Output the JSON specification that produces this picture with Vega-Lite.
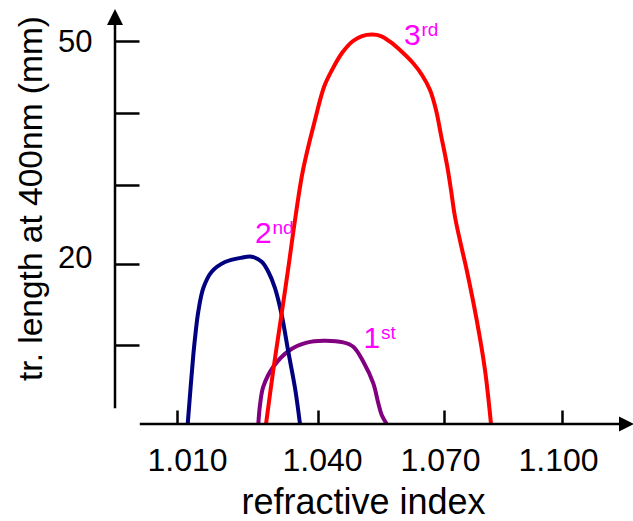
{
  "$schema": "https://vega.github.io/schema/vega-lite/v6.json",
  "width": 518,
  "height": 424,
  "autosize": {"type": "none"},
  "padding": {"left": 115, "top": 0, "right": 0, "bottom": 97},
  "background": "white",
  "config": {"view": {"stroke": null}, "font": "Liberation Sans"},
  "datasets": {
    "curves": [
      {"order": "1st", "ri": 1.02730, "len": 0},
      {"order": "1st", "ri": 1.02766, "len": 2.41},
      {"order": "1st", "ri": 1.02836, "len": 4.72},
      {"order": "1st", "ri": 1.03049, "len": 7.25},
      {"order": "1st", "ri": 1.03404, "len": 9.37},
      {"order": "1st", "ri": 1.03760, "len": 10.29},
      {"order": "1st", "ri": 1.04126, "len": 10.53},
      {"order": "1st", "ri": 1.04602, "len": 10.33},
      {"order": "1st", "ri": 1.04840, "len": 9.78},
      {"order": "1st", "ri": 1.05079, "len": 7.89},
      {"order": "1st", "ri": 1.05317, "len": 5.15},
      {"order": "1st", "ri": 1.05436, "len": 2.62},
      {"order": "1st", "ri": 1.05517, "len": 1.14},
      {"order": "1st", "ri": 1.05636, "len": 0},
      {"order": "2nd", "ri": 1.01228, "len": 0},
      {"order": "2nd", "ri": 1.01347, "len": 8.73},
      {"order": "2nd", "ri": 1.01398, "len": 11.65},
      {"order": "2nd", "ri": 1.01453, "len": 14.13},
      {"order": "2nd", "ri": 1.01560, "len": 17.06},
      {"order": "2nd", "ri": 1.01738, "len": 19.08},
      {"order": "2nd", "ri": 1.02021, "len": 20.29},
      {"order": "2nd", "ri": 1.02377, "len": 20.83},
      {"order": "2nd", "ri": 1.02589, "len": 20.95},
      {"order": "2nd", "ri": 1.02802, "len": 20.33},
      {"order": "2nd", "ri": 1.02943, "len": 19.08},
      {"order": "2nd", "ri": 1.03085, "len": 17.06},
      {"order": "2nd", "ri": 1.03228, "len": 13.72},
      {"order": "2nd", "ri": 1.03368, "len": 9.15},
      {"order": "2nd", "ri": 1.03511, "len": 4.56},
      {"order": "2nd", "ri": 1.03617, "len": 0},
      {"order": "3rd", "ri": 1.02894, "len": 0},
      {"order": "3rd", "ri": 1.03043, "len": 6.58},
      {"order": "3rd", "ri": 1.03206, "len": 13.10},
      {"order": "3rd", "ri": 1.03362, "len": 19.29},
      {"order": "3rd", "ri": 1.03511, "len": 25.57},
      {"order": "3rd", "ri": 1.03681, "len": 32.04},
      {"order": "3rd", "ri": 1.03936, "len": 38.99},
      {"order": "3rd", "ri": 1.04143, "len": 43.57},
      {"order": "3rd", "ri": 1.04333, "len": 45.93},
      {"order": "3rd", "ri": 1.04571, "len": 48.29},
      {"order": "3rd", "ri": 1.04833, "len": 49.96},
      {"order": "3rd", "ri": 1.05048, "len": 50.65},
      {"order": "3rd", "ri": 1.05286, "len": 50.86},
      {"order": "3rd", "ri": 1.05500, "len": 50.65},
      {"order": "3rd", "ri": 1.05714, "len": 49.86},
      {"order": "3rd", "ri": 1.05976, "len": 48.57},
      {"order": "3rd", "ri": 1.06262, "len": 46.90},
      {"order": "3rd", "ri": 1.06476, "len": 45.24},
      {"order": "3rd", "ri": 1.06667, "len": 43.15},
      {"order": "3rd", "ri": 1.06810, "len": 40.38},
      {"order": "3rd", "ri": 1.06929, "len": 36.90},
      {"order": "3rd", "ri": 1.07076, "len": 32.74},
      {"order": "3rd", "ri": 1.07178, "len": 29.33},
      {"order": "3rd", "ri": 1.07280, "len": 25.94},
      {"order": "3rd", "ri": 1.07432, "len": 22.42},
      {"order": "3rd", "ri": 1.07577, "len": 19.29},
      {"order": "3rd", "ri": 1.07831, "len": 13.10},
      {"order": "3rd", "ri": 1.08042, "len": 6.84},
      {"order": "3rd", "ri": 1.08195, "len": 0}
    ],
    "labels": [
      {"num": "1", "sup": "st", "ri": 1.05081, "len": 9.58},
      {"num": "2", "sup": "nd", "ri": 1.02660, "len": 22.71},
      {"num": "3", "sup": "rd", "ri": 1.06048, "len": 49.40}
    ]
  },
  "layer": [
    {
      "data": {"name": "curves"},
      "mark": {"type": "line", "interpolate": "catmull-rom", "strokeWidth": 4},
      "encoding": {
        "x": {
          "field": "ri", "type": "quantitative",
          "scale": {"domain": [1.0, 1.01, 1.04, 1.07, 1.1, 1.12], "range": [0, 62, 203, 329, 447, 511.5], "zero": false, "nice": false},
          "axis": {
            "values": [1.01, 1.04, 1.07, 1.1], "format": ".3f",
            "domain": false, "grid": false,
            "tickSize": -14, "tickWidth": 2.5, "tickColor": "black",
            "labelFontSize": 32, "labelPadding": 35, "labelColor": "black",
            "labelFlush": false, "labelOverlap": false,
            "labelOffset": {"condition": [{"test": "datum.value < 1.02", "value": 10}, {"test": "datum.value < 1.05", "value": 4}], "value": -4},
            "title": "refractive index", "titleFontSize": 36, "titleFontWeight": "normal", "titleColor": "black",
            "titleX": 248, "titleY": 89, "titleBaseline": "alphabetic"
          }
        },
        "y": {
          "field": "len", "type": "quantitative",
          "scale": {"domain": [0, 10, 20, 30, 40, 50], "range": [424, 345, 264.3, 184.7, 112.7, 40.7], "zero": false, "nice": false},
          "axis": {
            "values": [10, 20, 30, 40, 50],
            "labelExpr": "datum.value == 20 || datum.value == 50 ? datum.label : ''",
            "domain": false, "grid": false,
            "tickSize": -24, "tickWidth": 2.5, "tickColor": "black",
            "labelFontSize": 31, "labelPadding": 47, "labelColor": "black",
            "labelOffset": {"condition": {"test": "datum.value == 20", "value": -6}, "value": 2},
            "title": "tr. length at 400nm (mm)", "titleFontSize": 33.5, "titleFontWeight": "normal", "titleColor": "black",
            "titleX": -74, "titleY": 198, "titleBaseline": "alphabetic", "titleAngle": -90
          }
        },
        "color": {
          "field": "order", "type": "nominal",
          "scale": {"domain": ["1st", "2nd", "3rd"], "range": ["#800080", "#000080", "#FF0000"]},
          "legend": null
        }
      }
    },
    {
      "data": {"values": [{}]},
      "mark": {"type": "rule", "strokeWidth": 2.5, "color": "black"},
      "encoding": {
        "x": {"datum": 1.0, "type": "quantitative"},
        "y": {"datum": 2, "type": "quantitative"},
        "y2": {"datum": 53}
      }
    },
    {
      "data": {"values": [{}]},
      "mark": {"type": "rule", "strokeWidth": 2.5, "color": "black"},
      "encoding": {
        "x": {"datum": 1.004, "type": "quantitative"},
        "x2": {"datum": 1.118},
        "y": {"datum": 0, "type": "quantitative"}
      }
    },
    {
      "data": {"values": [{}]},
      "mark": {"type": "point", "shape": "M0,-1L-1,1L1,1Z", "filled": true, "size": 256, "color": "black", "opacity": 1, "strokeWidth": 0},
      "encoding": {
        "x": {"datum": 1.0, "type": "quantitative"},
        "y": {"datum": 53.3, "type": "quantitative"}
      }
    },
    {
      "data": {"values": [{}]},
      "mark": {"type": "point", "shape": "M1,0L-1,-1L-1,1Z", "filled": true, "size": 225, "color": "black", "opacity": 1, "strokeWidth": 0},
      "encoding": {
        "x": {"datum": 1.12, "type": "quantitative"},
        "y": {"datum": 0, "type": "quantitative"}
      }
    },
    {
      "data": {"name": "labels"},
      "mark": {"type": "text", "align": "left", "baseline": "alphabetic", "fontSize": 30, "color": "#FF00FF"},
      "encoding": {
        "x": {"field": "ri", "type": "quantitative"},
        "y": {"field": "len", "type": "quantitative"},
        "text": {"field": "num"}
      }
    },
    {
      "data": {"name": "labels"},
      "mark": {"type": "text", "align": "left", "baseline": "alphabetic", "fontSize": 19, "color": "#FF00FF", "dx": 17.5, "dy": -9},
      "encoding": {
        "x": {"field": "ri", "type": "quantitative"},
        "y": {"field": "len", "type": "quantitative"},
        "text": {"field": "sup"}
      }
    }
  ]
}
